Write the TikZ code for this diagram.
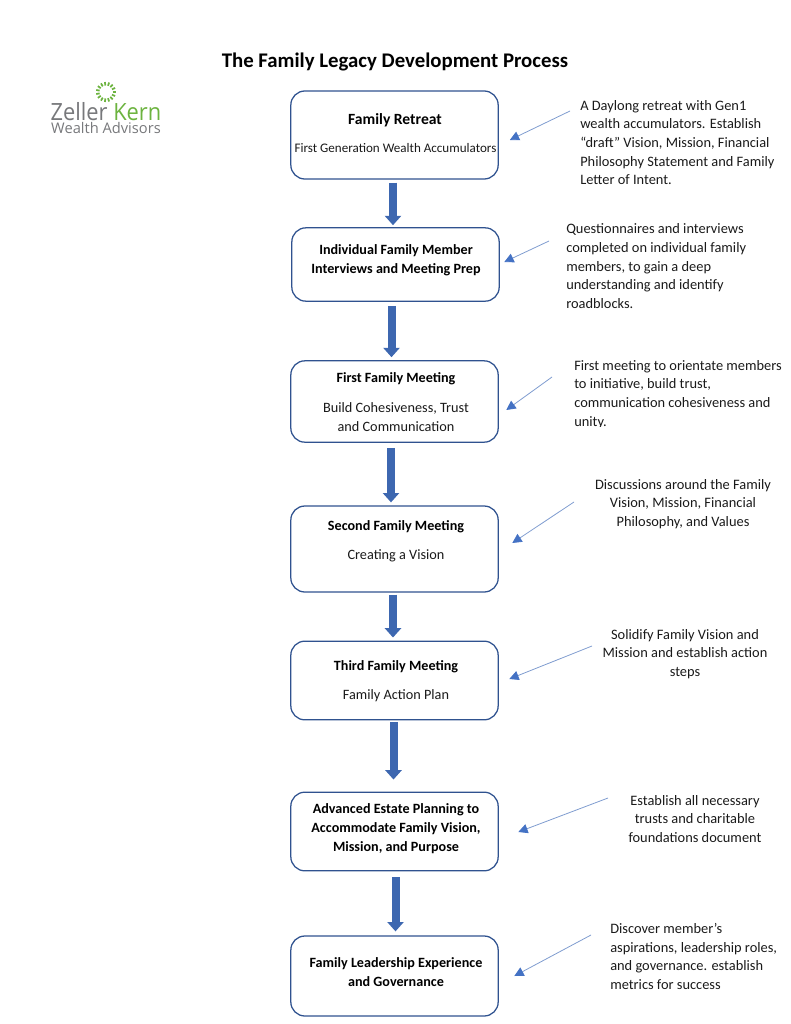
\documentclass[tikz,border=0pt]{standalone}
\usepackage{fontspec}
\setmainfont{Carlito}
\newfontfamily\logofont{Open Sans}
\usetikzlibrary{arrows.meta,positioning}
\definecolor{boxblue}{HTML}{2F528F}
\definecolor{accblue}{HTML}{4472C4}
\definecolor{thinblue}{HTML}{7F9CCF}
\definecolor{txtgray}{HTML}{1A1A1A}
\definecolor{logogray}{HTML}{77787B}
\definecolor{logogreen}{HTML}{6CB33F}
\tikzset{
  stepbox/.style={draw=boxblue,line width=0.95pt,rounded corners=10.5pt,minimum width=155.5pt,inner sep=0pt},
  blockarr/.style={line width=6pt,accblue!90!black,-{Triangle[length=7pt,width=12pt]}},
  notearr/.style={thinblue,line width=0.6pt,-{Triangle[length=7pt,width=7pt,color=accblue]}},
  steplbl/.style={font=\fontsize{10.7}{14}\selectfont,align=center,inner sep=0pt,text=txtgray},
  stephd/.style={steplbl,font=\fontsize{10.6}{14}\selectfont\bfseries,text=black},
  notelbl/.style={font=\fontsize{10.8}{14}\selectfont,align=left,inner sep=0pt,text=txtgray},
  notectr/.style={notelbl,align=center},
  logotxt/.style={text=logogray,inner sep=0pt,anchor=base,text depth=0pt},
}
\begin{document}
\begin{tikzpicture}[x=0.75pt,y=-0.75pt]
  \useasboundingbox (0,0) rectangle (791,1024);
  \node[font=\fontsize{15.6}{18}\selectfont\bfseries] (title) at (395,61.5) {The Family Legacy Development Process};
  % logo
  \foreach \a in {0,24,...,336}{
    \draw[logogreen,line width=1.3pt] (106,92)+(\a:6.5) -- +(\a:10);
  }
  \node[logotxt,font=\fontsize{17.8}{18}\selectfont\logofont,xscale=0.92] (zeller) at (106,120) {Zeller \textcolor{logogreen}{Kern}};
  \node[logotxt,font=\fontsize{11}{12}\selectfont\logofont,text height=7.8pt] (wealth) at (106,133) {Wealth Advisors};
  % boxes
  \node[stepbox,minimum height=66pt] (retreat) at (394.5,135) {};
  \node[stepbox,minimum height=55pt] (interv) at (395.5,264.5) {};
  \node[stepbox,minimum height=61pt] (first) at (394.5,401.5) {};
  \node[stepbox,minimum height=64.5pt] (second) at (394.5,549) {};
  \node[stepbox,minimum height=59pt] (third) at (394.5,680.5) {};
  \node[stepbox,minimum height=59pt] (estate) at (394.5,831.5) {};
  \node[stepbox,minimum height=60pt] (leader) at (394.5,976) {};
  % box texts
  \node[stephd,font=\fontsize{11.7}{14}\selectfont\bfseries] (retreathd) at (395,120) {Family Retreat};
  \node[steplbl,font=\fontsize{9.8}{14}\selectfont] (retreatsub) at (395.5,148) {First Generation Wealth Accumulators};
  \node[stephd] (intervhd) at (396,260.5) {Individual Family Member\\Interviews and Meeting Prep};
  \node[stephd] (firsthd) at (396,379) {First Family Meeting};
  \node[steplbl] (firstsub) at (396,417) {Build Cohesiveness, Trust\\and Communication};
  \node[stephd] (secondhd) at (396,527) {Second Family Meeting};
  \node[steplbl] (secondsub) at (396,556) {Creating a Vision};
  \node[stephd] (thirdhd) at (396,667) {Third Family Meeting};
  \node[steplbl] (thirdsub) at (396,696) {Family Action Plan};
  \node[stephd] (estatehd) at (396,828.5) {Advanced Estate Planning to\\Accommodate Family Vision,\\Mission, and Purpose};
  \node[stephd] (leaderhd) at (396,972) {Family Leadership Experience\\and Governance};
  % block arrows between boxes
  \foreach \p/\q/\dx/\da/\db in {retreat/interv/-1.5/3/-2, interv/first/-4/4/-3, first/second/-3.5/5/-3, second/third/-1.5/2/-3, third/estate/-1/2/-12, estate/leader/1/6/-4}{
    \draw[blockarr] ([shift={(\dx,\da)}]\p.south) -- ([shift={(\dx,\db)}]\p.south |- \q.north);
  }
  % side notes
  \node[notelbl,anchor=north west] (n1) at (580,100) {A Daylong retreat with Gen1\\wealth accumulators. Establish\\“draft” Vision, Mission, Financial\\Philosophy Statement and Family\\Letter of Intent.};
  \node[notelbl,anchor=north west] (n2) at (566,223.5) {Questionnaires and interviews\\completed on individual family\\members, to gain a deep\\understanding and identify\\roadblocks.};
  \begin{scope}
    \clip (560,350) rectangle (791,426.5);
    \node[notelbl,anchor=north west] (n3) at (574,360) {First meeting to orientate members\\to initiative, build trust,\\communication cohesiveness and\\unity.};
  \end{scope}
  \node[notectr] (n4) at (683,504) {Discussions around the Family\\Vision, Mission, Financial\\Philosophy, and Values};
  \node[notectr] (n5) at (685,654) {Solidify Family Vision and\\Mission and establish action\\steps};
  \node[notectr] (n6) at (695,819) {Establish all necessary\\trusts and charitable\\foundations document};
  \node[notelbl,anchor=north west] (n7) at (610,923) {Discover member’s\\aspirations, leadership roles,\\and governance. establish\\metrics for success};
  % thin arrows
  \coordinate (s1) at (570,111);
  \coordinate (s2) at (549,241);
  \coordinate (s3) at (552,377);
  \coordinate (s4) at (574,502);
  \coordinate (s5) at (592,646);
  \coordinate (s6) at (608,798);
  \coordinate (s7) at (591,935);
  \draw[notearr] (s1) -- ([shift={(11,5)}]retreat.east);
  \draw[notearr] (s2) -- ([shift={(4.5,-2.5)}]interv.east);
  \draw[notearr] (s3) -- ([shift={(7.5,8.5)}]first.east);
  \draw[notearr] (s4) -- ([shift={(13.5,-6)}]second.east);
  \draw[notearr] (s5) -- ([shift={(10.5,-1.5)}]third.east);
  \draw[notearr] (s6) -- ([shift={(19.5,0.5)}]estate.east);
  \draw[notearr] (s7) -- ([shift={(15.5,0)}]leader.east);
\end{tikzpicture}
\end{document}
